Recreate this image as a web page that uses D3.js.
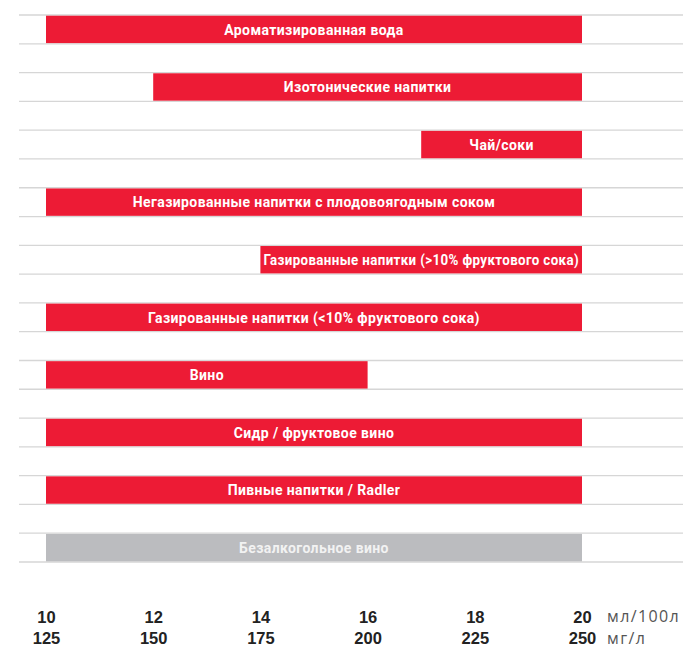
<!DOCTYPE html>
<html>
<head>
<meta charset="utf-8">
<script src="https://cdn.jsdelivr.net/npm/d3@7"></script>
<style>
  body { margin: 0; background: #fff; }
  #chart { width: 683px; height: 648px; }
  .bar-label { font-family: Roboto, "Liberation Sans", sans-serif; font-weight: 700; font-size: 14px; letter-spacing: 0.4px; }
  .tick text { font-family: "Liberation Sans", Arial, sans-serif; font-weight: 700; font-size: 16.5px; fill: #222; }
  .unit { font-family: "Open Sans", "Liberation Sans", sans-serif; font-size: 16px; fill: #555; letter-spacing: 1.4px; }
</style>
</head>
<body>
<div id="chart"></div>
<script>
// Напитки (сверху вниз)
var categories = [
  'Ароматизированная вода',
  'Изотонические напитки',
  'Чай/соки',
  'Негазированные напитки с плодовоягодным соком',
  'Газированные напитки (>10% фруктового сока)',
  'Газированные напитки (<10% фруктового сока)',
  'Вино',
  'Сидр / фруктовое вино',
  'Пивные напитки / Radler',
  'Безалкогольное вино'
];
// диапазон дозировки, мл/100л
var rangeStart = [10, 12, 17, 10, 14, 10, 10, 10, 10, 10];
var rangeEnd   = [20, 20, 20, 20, 20, 20, 16, 20, 20, 20];
var groups     = ['alc', 'alc', 'alc', 'alc', 'alc', 'alc', 'alc', 'alc', 'alc', 'nonalc'];

var mlTicks = [10, 12, 14, 16, 18, 20];
var mgTicks = [125, 150, 175, 200, 225, 250];
var mlUnit = 'мл/100л', mgUnit = 'мг/л';

var
WIDTH = 683,
HEIGHT = 648;

var data = categories.map(function(c, i) {
  return { name: c, start: rangeStart[i], end: rangeEnd[i], group: groups[i] };
});

var svg = d3.select('#chart')
  .append('svg')
  .attr('width', WIDTH)
  .attr('height', HEIGHT);

var x = d3.scaleLinear().domain([10, 20]).range([46, 582]);
var y = d3.scaleBand()
  .domain(categories)
  .range([15, 590.8])
  .paddingInner(0.5)
  .paddingOuter(0.25)
  .align(0);

var color = d3.scaleOrdinal().domain(['alc', 'nonalc']).range(['#ed1b35', '#bbbcbf']);
var textColor = d3.scaleOrdinal().domain(['alc', 'nonalc']).range(['#ffffff', '#f2f2f2']);

// сетка: линия сверху и снизу каждой полосы
var lines = [];
categories.forEach(function(c) { lines.push(y(c)); lines.push(y(c) + y.bandwidth()); });
svg.append('g')
  .selectAll('line')
  .data(lines)
  .enter()
  .append('line')
  .attr('x1', 19)
  .attr('x2', WIDTH)
  .attr('y1', function(d) { return d; })
  .attr('y2', function(d) { return d; })
  .attr('stroke', '#d6d6d6')
  .attr('stroke-width', 1.3);

var bars = svg.append('g')
  .selectAll('g')
  .data(data)
  .enter()
  .append('g');

bars.append('rect')
  .attr('x', function(d) { return x(d.start); })
  .attr('y', function(d) { return y(d.name) + 0.7; })
  .attr('width', function(d) { return x(d.end) - x(d.start); })
  .attr('height', y.bandwidth() - 1.4)
  .attr('fill', function(d) { return color(d.group); });

bars.append('text')
  .attr('class', 'bar-label')
  .attr('x', function(d) { return (x(d.start) + x(d.end)) / 2; })
  .attr('y', function(d) { return y(d.name) + y.bandwidth() / 2; })
  .attr('dy', '.38em')
  .attr('text-anchor', 'middle')
  .attr('fill', function(d) { return textColor(d.group); })
  .text(function(d) { return d.name; })
  .each(function(d) {
    // длинная подпись сжимается по ширине полосы
    var avail = x(d.end) - x(d.start) - 6;
    if (this.getComputedTextLength() > avail) {
      d3.select(this).attr('textLength', avail).attr('lengthAdjust', 'spacingAndGlyphs');
    }
  });

// оси
var mlAxis = d3.axisBottom(x)
  .tickValues(mlTicks)
  .tickSize(0)
  .tickPadding(0);
var mgAxis = d3.axisBottom(x)
  .tickValues(mlTicks)
  .tickSize(0)
  .tickPadding(0)
  .tickFormat(function(d, i) { return mgTicks[i]; });

var g1 = svg.append('g').attr('transform', 'translate(0,' + 610 + ')').call(mlAxis);
var g2 = svg.append('g').attr('transform', 'translate(0,' + 632 + ')').call(mgAxis);
g1.select('.domain').remove();
g2.select('.domain').remove();
g1.selectAll('.tick text').attr('dy', '0.76em');
g2.selectAll('.tick text').attr('dy', '0.72em');

svg.append('text')
  .attr('class', 'unit')
  .attr('x', 607)
  .attr('y', 622)
  .text(mlUnit);
svg.append('text')
  .attr('class', 'unit')
  .attr('x', 607)
  .attr('y', 644)
  .text(mgUnit);
</script>
</body>
</html>
